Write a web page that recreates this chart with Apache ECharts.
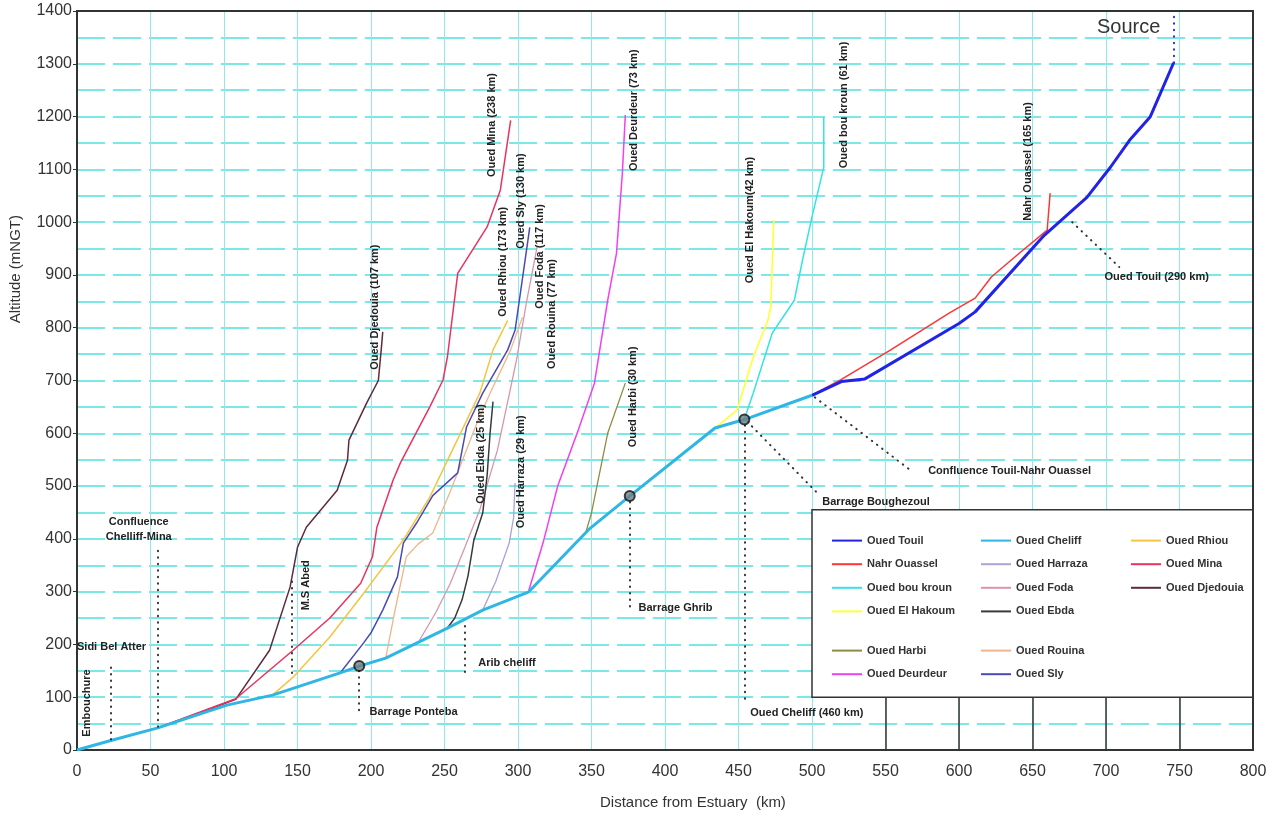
<!DOCTYPE html>
<html>
<head>
<meta charset="utf-8">
<title>Profil en long - Oued Cheliff et affluents</title>
<script src="https://cdn.jsdelivr.net/npm/echarts@6/dist/echarts.min.js"></script>
<style>
  html, body { margin: 0; padding: 0; background: #ffffff; }
  #chart { width: 1278px; height: 816px; }
</style>
</head>
<body>
<div id="chart"></div>
<script>
// Longitudinal profiles: [distance from estuary (km), altitude (m NGT)]
const cheliff = [[0,0],[23,18],[55,42],[102,85],[133,104],[179,146],[192,159],[210,174],[252,231],[276,265],[307,299],[349,420],[376,481],[434,610],[454,626],[500,672]];
const touil = [[500,672],[520,698],[536,703],[600,808],[611,830],[658,975],[687,1047],[703,1104],[716,1155],[730,1199],[746,1302]];
const nahrOuassel = [[500,672],[520,702],[553,757],[593,827],[611,856],[622,896],[641,941],[660,985],[662,1055]];
const bouKroun = [[454,627],[460,676],[473,790],[488,852],[494,934],[500,1010],[508,1104],[508,1199]];
const elHakoum = [[434,610],[449,644],[460,744],[470,814],[472,840],[474,1004]];
const harbi = [[346,411],[350,449],[361,600],[373,695]];
const deurdeur = [[307,299],[317,392],[327,500],[341,606],[352,695],[361,852],[367,941],[369,1017],[371,1093],[373,1203]];
const harraza = [[276,265],[285,320],[294,392],[297,440],[298,506]];
const foda = [[233,208],[244,260],[254,316],[264,385],[274,455],[286,568],[299,739],[306,852],[313,953]];
const ebda = [[252,231],[257,250],[262,285],[266,330],[270,398],[276,449],[279,520],[281,600],[283,660]];
const rouina = [[210,174],[216,260],[224,366],[232,390],[242,411],[254,490],[272,619],[281,676],[295,758],[303,820]];
const sly = [[179,146],[195,203],[200,222],[208,265],[218,328],[222,392],[231,430],[242,482],[259,525],[265,612],[276,676],[293,758],[298,795],[308,990]];
const rhiou = [[133,104],[147,138],[172,214],[195,297],[222,398],[240,479],[274,676],[283,758],[293,814]];
const mina = [[55,42],[82,70],[108,97],[147,189],[172,250],[193,316],[201,366],[204,422],[215,511],[220,544],[240,650],[249,701],[252,745],[259,903],[279,991],[288,1061],[295,1193]];
const djedouia = [[55,42],[84,71],[108,96],[131,189],[145,309],[150,384],[156,422],[177,492],[184,549],[185,587],[197,657],[205,700],[207,760],[208,792]];

// Dams on the main river
const damSites = [[192,159],[376,481],[454,626]];

// River names, written vertically, anchored in data units [km, m]
const riverLabels = [
  { text: 'Oued Djedouia (107 km)', at: [203, 839] },
  { text: 'Oued Mina (238 km)', at: [282, 1184] },
  { text: 'Oued Rhiou (173 km)', at: [290, 925] },
  { text: 'Oued Sly (130 km)', at: [302, 1040] },
  { text: 'Oued Foda (117 km)', at: [315, 935] },
  { text: 'Oued Rouina (77 km)', at: [323, 826] },
  { text: 'Oued Deurdeur (73 km)', at: [379, 1212] },
  { text: 'Oued bou kroun (61 km)', at: [522, 1222] },
  { text: 'Oued El Hakoum(42 km)', at: [458, 1004] },
  { text: 'Nahr Ouassel (165 km)', at: [647, 1115] },
  { text: 'Oued Harbi (30 km)', at: [378, 669] },
  { text: 'Oued Harraza (29 km)', at: [302, 527] },
  { text: 'Oued Ebda (25 km)', at: [275, 561] },
  { text: 'Embouchure', at: [7, 89] },
  { text: 'M.S Abed', at: [156, 312] }
];
// Place names, written horizontally
const placeLabels = [
  { text: 'Sidi Bel Atter', at: [0, 195], align: 'left' },
  { text: 'Confluence\nChelliff-Mina', at: [42, 418], align: 'center' },
  { text: 'Barrage Ponteba', at: [199, 72], align: 'left' },
  { text: 'Arib cheliff', at: [273, 165], align: 'left' },
  { text: 'Barrage Ghrib', at: [382, 269], align: 'left' },
  { text: 'Barrage Boughezoul', at: [507, 470], align: 'left' },
  { text: 'Oued Cheliff (460 km)', at: [458, 70], align: 'left' },
  { text: 'Confluence Touil-Nahr Ouassel', at: [579, 528], align: 'left' },
  { text: 'Oued Touil (290 km)', at: [699, 896], align: 'left' }
];
const sourceLabel = { text: 'Source', at: [737, 1369] };

// Dotted leader lines [km1, m1, km2, m2]
const leaders = [
  [23, 20, 23, 160],
  [55, 44, 55, 388],
  [146, 146, 146, 328],
  [192, 150, 192, 65],
  [264, 235, 264, 142],
  [376, 470, 376, 265],
  [454, 615, 454, 95],
  [456, 622, 505, 483],
  [502, 668, 567, 530],
  [677, 1000, 709, 915]
];
const sourceLeader = [746, 1302, 746, 1400];

// Frame under the legend and the plot edges
const legendFrame = [[500, 100], [800, 455]];
const frameTicks = [550, 600, 650, 700, 750];
const xRange = [0, 800];
const yRange = [0, 1400];

const FONT = 'Arial, "Liberation Sans", sans-serif';
const LABEL_FONT = 'bold 11px Arial, "Liberation Sans", sans-serif';

function river(name, data, color, width) {
  return {
    name: name, type: 'line', data: data, symbol: 'none', smooth: false,
    lineStyle: { color: color, width: width }, itemStyle: { color: color },
    z: 3, silent: true, animation: false
  };
}

const series = [
  {
    name: 'frame', type: 'line', data: [], silent: true, animation: false, z: 2,
    markArea: {
      silent: true,
      itemStyle: { color: '#ffffff', borderColor: '#333333', borderWidth: 1.5 },
      data: [[{ coord: legendFrame[0] }, { coord: legendFrame[1] }]]
    },
    markLine: {
      silent: true, symbol: 'none', label: { show: false },
      lineStyle: { color: '#333333', width: 1.5, type: 'solid' },
      data: frameTicks.map(k => [{ coord: [k, yRange[0]] }, { coord: [k, legendFrame[0][1]] }])
    }
  },
  {
    name: 'edges', type: 'line', data: [], silent: true, animation: false, z: 7,
    markLine: {
      silent: true, symbol: 'none', label: { show: false },
      lineStyle: { color: '#333333', width: 2, type: 'solid' },
      data: [
        [{ coord: [xRange[0], yRange[1]] }, { coord: [xRange[1], yRange[1]] }],
        [{ coord: [xRange[1], yRange[0]] }, { coord: [xRange[1], yRange[1]] }]
      ]
    }
  },
  {
    name: 'leaders', type: 'line', data: [], silent: true, animation: false, z: 4,
    markLine: {
      silent: true, symbol: 'none', label: { show: false },
      lineStyle: { color: '#333333', width: 2, type: [0.5, 6], cap: 'round' },
      data: leaders.map(l => [{ coord: [l[0], l[1]] }, { coord: [l[2], l[3]] }])
        .concat([[{ coord: [sourceLeader[0], sourceLeader[1]], lineStyle: { color: '#2a2ae0' } },
                  { coord: [sourceLeader[2], sourceLeader[3]] }]])
    }
  },
  river('Oued Djedouia', djedouia, '#5c2c3c', 1.5),
  river('Oued Mina', mina, '#e8335e', 1.5),
  river('Oued Rhiou', rhiou, '#f5c542', 1.5),
  river('Oued Rouina', rouina, '#f2b48a', 1.3),
  river('Oued Sly', sly, '#4a4ab4', 1.5),
  river('Oued Foda', foda, '#d995a8', 1.3),
  river('Oued Ebda', ebda, '#3a3a3a', 1.5),
  river('Oued Harraza', harraza, '#a9a4d4', 1.3),
  river('Oued Deurdeur', deurdeur, '#f040f0', 1.5),
  river('Oued Harbi', harbi, '#8c8c44', 1.3),
  river('Oued El Hakoum', elHakoum, '#ffff33', 1.6),
  river('Oued bou kroun', bouKroun, '#36e2e6', 1.5),
  river('Nahr Ouassel', nahrOuassel, '#ff3535', 1.5),
  river('Oued Touil', touil, '#2323e6', 3),
  river('Oued Cheliff', cheliff, '#2fb6e4', 3),
  {
    name: 'dams', type: 'scatter', data: damSites, symbol: 'circle', symbolSize: 10,
    itemStyle: { color: '#6f7f86', borderColor: '#111111', borderWidth: 2 },
    z: 5, silent: true, animation: false
  },
  {
    name: 'labels', type: 'custom', clip: false, silent: true, animation: false, z: 6,
    data: riverLabels.map(l => l.at).concat(placeLabels.map(l => l.at)).concat([sourceLabel.at]),
    renderItem: function (params, api) {
      const i = params.dataIndex;
      const nR = riverLabels.length, nP = placeLabels.length;
      let item, rot = 0, align = 'center', font = LABEL_FONT, fill = '#222222';
      if (i < nR) { item = riverLabels[i]; rot = Math.PI / 2; }
      else if (i < nR + nP) { item = placeLabels[i - nR]; align = item.align; }
      else { item = sourceLabel; align = 'right'; font = '20px ' + FONT; fill = '#333333'; }
      const p = api.coord(item.at);
      return {
        type: 'text', x: p[0], y: p[1], rotation: rot,
        style: { text: item.text, font: font, fill: fill, align: align, verticalAlign: 'middle', lineHeight: 15 }
      };
    }
  }
];

const legendText = { fontFamily: FONT, fontSize: 11, fontWeight: 'bold', color: '#333333' };
function legendBlock(left, top, names) {
  return {
    orient: 'vertical', left: left, top: top, data: names, itemWidth: 30, itemHeight: 14,
    itemGap: 12.4, textStyle: legendText, selectedMode: false,
    itemStyle: { opacity: 0 }
  };
}

const option = {
  animation: false,
  backgroundColor: '#ffffff',
  grid: { left: 77, right: 25, top: 11, bottom: 66, show: true, borderColor: '#333333', borderWidth: 2, containLabel: false },
  xAxis: {
    type: 'value', min: xRange[0], max: xRange[1], interval: 50,
    axisLine: { show: true, lineStyle: { color: '#333333', width: 2 } },
    axisTick: { show: false },
    axisLabel: { fontFamily: FONT, fontSize: 16, color: '#333333', margin: 14, formatter: v => String(v) },
    splitLine: { show: true, lineStyle: { color: '#8fe9ea', width: 1 } }
  },
  yAxis: {
    type: 'value', min: yRange[0], max: yRange[1], interval: 100,
    axisLine: { show: true, lineStyle: { color: '#333333', width: 2 } },
    axisTick: { show: true, length: 4, lineStyle: { color: '#333333' } },
    axisLabel: { fontFamily: FONT, fontSize: 16, color: '#333333', margin: 5, formatter: v => String(v) },
    splitLine: { show: true, lineStyle: { color: '#52dfe0', width: 1.5, type: [28, 8] } },
    minorTick: { show: false, splitNumber: 2 },
    minorSplitLine: { show: true, lineStyle: { color: '#52dfe0', width: 1.5, type: [28, 8] } }
  },
  legend: [
    legendBlock(826, 530, ['Oued Touil', 'Nahr Ouassel', 'Oued bou kroun', 'Oued El Hakoum']),
    legendBlock(826, 640, ['Oued Harbi', 'Oued Deurdeur']),
    legendBlock(975, 530, ['Oued Cheliff', 'Oued Harraza', 'Oued Foda', 'Oued Ebda']),
    legendBlock(975, 640, ['Oued Rouina', 'Oued Sly']),
    legendBlock(1125, 530, ['Oued Rhiou', 'Oued Mina', 'Oued Djedouia'])
  ],
  graphic: [
    { type: 'text', left: 8, top: 215, rotation: Math.PI / 2,
      style: { text: 'Altitude (mNGT)', font: '15px ' + FONT, fill: '#333333' } },
    { type: 'text', left: 600, top: 795,
      style: { text: 'Distance from Estuary  (km)', font: '15px ' + FONT, fill: '#333333' } }
  ],
  series: series
};

const chart = echarts.init(document.getElementById('chart'), null, { renderer: 'canvas' });
chart.setOption(option);
</script>
</body>
</html>
